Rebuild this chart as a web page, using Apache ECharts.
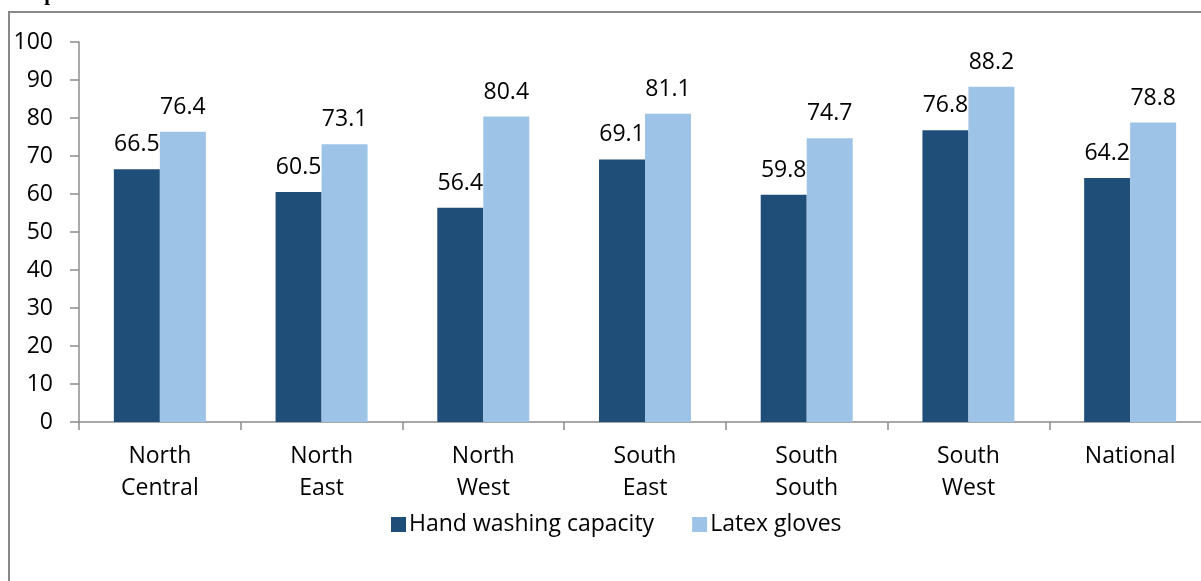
<!DOCTYPE html>
<html>
<head>
<meta charset="utf-8">
<script src="https://cdn.jsdelivr.net/npm/echarts@6/dist/echarts.min.js"></script>
<style>
html,body{margin:0;padding:0;background:#fff;}
#chart{width:1201px;height:581px;}
</style>
</head>
<body>
<div id="chart"></div>
<script>
const categories = ['North\nCentral', 'North\nEast', 'North\nWest', 'South\nEast', 'South\nSouth', 'South\nWest', 'National'];
const handWashing = [66.5, 60.5, 56.4, 69.1, 59.8, 76.8, 64.2];
const latexGloves = [76.4, 73.1, 80.4, 81.1, 74.7, 88.2, 78.8];
const seriesNames = ['Hand washing capacity', 'Latex gloves'];
const yTicks = { min: 0, max: 100, interval: 10 };
const titleText = 'Geopolitical Zone';

const FONT = 'Open Sans';
const FS = 23;
const chart = echarts.init(document.getElementById('chart'), null, { renderer: 'canvas' });
const labelStyle = {
  show: true, position: 'top', distance: 13,
  fontFamily: FONT, fontSize: FS, color: '#000',
  formatter: p => p.value.toFixed(1)
};
chart.setOption({
  animation: false,
  backgroundColor: '#fff',
  graphic: [
    { type: 'rect', shape: { x: 9, y: 12, width: 1400, height: 800 },
      style: { fill: 'none', stroke: '#888', lineWidth: 2 }, z: 0 },
    { type: 'text', x: 8, y: -16, style: { text: titleText, font: 'bold 21px "Liberation Serif"', fill: '#000' } }
  ],
  grid: { left: 79, top: 42, width: 1132, height: 380, outerBoundsMode: 'none', containLabel: false },
  legend: {
    data: seriesNames,
    left: 386, top: 508,
    itemWidth: 15, itemHeight: 15, itemGap: 38,
    icon: 'rect',
    textStyle: { fontFamily: FONT, fontSize: FS, color: '#000', padding: [0, 0, 0, -2] }
  },
  xAxis: {
    type: 'category', data: categories,
    axisLine: { show: true, lineStyle: { color: '#8c8c8c', width: 1.5 } },
    axisTick: { show: true, length: 8, lineStyle: { color: '#8c8c8c', width: 1.5 } },
    axisLabel: { fontFamily: FONT, fontSize: FS, color: '#000', lineHeight: 32, margin: 18, interval: 0 },
    splitLine: { show: false }
  },
  yAxis: {
    type: 'value', min: yTicks.min, max: yTicks.max, interval: yTicks.interval,
    axisLine: { show: true, lineStyle: { color: '#8c8c8c', width: 1.5 } },
    axisTick: { show: true, inside: false, length: 9, lineStyle: { color: '#8c8c8c', width: 1.5 } },
    axisLabel: { fontFamily: FONT, fontSize: FS, color: '#000', margin: 26 },
    splitLine: { show: false }
  },
  series: [
    { name: seriesNames[0], type: 'bar', data: handWashing, barWidth: 46, barGap: '0%',
      itemStyle: { color: '#1F4E79' }, label: labelStyle },
    { name: seriesNames[1], type: 'bar', data: latexGloves, barWidth: 46, barGap: '0%',
      itemStyle: { color: '#9DC3E6' }, label: labelStyle }
  ]
});
</script>
</body>
</html>
